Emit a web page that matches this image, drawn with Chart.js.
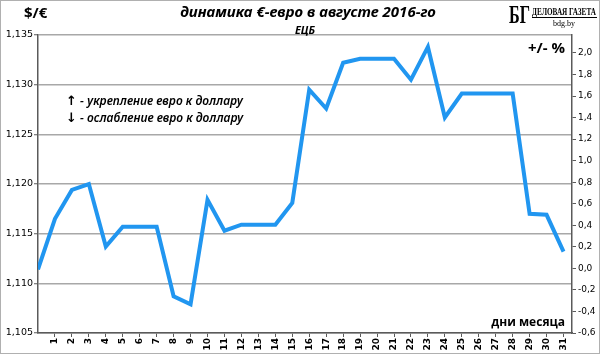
<!DOCTYPE html>
<html>
<head>
<meta charset="utf-8">
<script src="https://cdn.jsdelivr.net/npm/chart.js@4"></script>
<style>
  body { margin: 0; background: #fff; }
  canvas { display: block; }
</style>
</head>
<body>
<canvas id="euroChart" width="600" height="354"></canvas>
<script>
// Data: EUR/USD rate (ECB), August 2016; day 0 = end of July
const days = [0, 1, 2, 3, 4, 5, 6, 7, 8, 9, 10, 11, 12, 13, 14, 15, 16, 17, 18, 19, 20, 21, 22, 23, 24, 25, 26, 27, 28, 29, 30, 31];
const rates = [1.1114, 1.1165, 1.1194, 1.1200, 1.1137, 1.1157, 1.1157, 1.1157, 1.1087, 1.1079,
    1.1184, 1.1153, 1.1159, 1.1159, 1.1159, 1.1181, 1.1295, 1.1276, 1.1322, 1.1326,
    1.1326, 1.1326, 1.1305, 1.1338, 1.1267, 1.1291, 1.1291, 1.1291, 1.1291, 1.1170,
    1.1169, 1.1132];
const dayTicks = [1, 2, 3, 4, 5, 6, 7, 8, 9, 10, 11, 12, 13, 14, 15, 16, 17, 18, 19, 20, 21, 22, 23, 24, 25, 26, 27, 28, 29, 30, 31];
const rateTicks = [1.105, 1.110, 1.115, 1.120, 1.125, 1.130, 1.135];
const pctTicks = [-0.6, -0.4, -0.2, 0.0, 0.2, 0.4, 0.6, 0.8, 1.0, 1.2, 1.4, 1.6, 1.8, 2.0];

const lineColor = '#2196f0';
const axisColor = '#5a5a5a';
const gridColor = '#a8a8a8';

function comma(v, digits) {
    return v.toFixed(digits).replace('.', ',');
}

// draw text squeezed into a given width (for the condensed logo lettering)
function fitText(ctx, text, x, y, width) {
    const w = ctx.measureText(text).width;
    ctx.save();
    ctx.translate(x, y);
    ctx.scale(Math.min(1, width / w), 1);
    ctx.fillText(text, 0, 0);
    ctx.restore();
}

// Titles, notes and logo drawn over the chart
const decorations = {
    id: 'decorations',
    afterDraw(chart) {
        const ctx = chart.ctx;
        ctx.save();
        ctx.fillStyle = '#000';
        ctx.textBaseline = 'middle';

        ctx.font = 'bold 15px "Open Sans", "DejaVu Sans", sans-serif';
        ctx.textAlign = 'left';
        ctx.fillText('$/€', 24, 14);

        ctx.font = 'italic bold 15px "Noto Sans", "DejaVu Sans", sans-serif';
        ctx.textAlign = 'center';
        ctx.fillText('динамика €-евро в августе 2016-го', 308, 13);

        ctx.font = 'italic bold 11px "Noto Sans", sans-serif';
        ctx.fillText('ЕЦБ', 305, 31);

        ctx.font = 'bold 15px "Open Sans", sans-serif';
        ctx.textAlign = 'right';
        ctx.fillText('+/- %', 565, 49);

        ctx.font = 'bold 12px "Open Sans", sans-serif';
        ctx.fillText('дни месяца', 565, 323);

        ctx.textAlign = 'left';
        ctx.font = 'bold 13px "DejaVu Sans", sans-serif';
        ctx.fillText('↑', 66, 102);
        ctx.fillText('↓', 66, 119);
        ctx.font = 'italic 600 12px "Noto Sans", sans-serif';
        ctx.fillText('- укрепление евро к доллару', 80, 102);
        ctx.fillText('- ослабление евро к доллару', 80, 119);

        // logo
        ctx.font = 'bold 25px "Liberation Serif", serif';
        fitText(ctx, 'БГ', 509, 17, 21);
        ctx.font = 'bold 10px "Liberation Serif", serif';
        fitText(ctx, 'ДЕЛОВАЯ ГАЗЕТА', 532, 12, 64);
        ctx.fillRect(532, 17, 65, 1);
        ctx.font = '8px "Liberation Serif", serif';
        ctx.textAlign = 'center';
        ctx.fillText('bdg.by', 564, 24);

        // outer frame
        ctx.strokeStyle = '#b0b0b0';
        ctx.lineWidth = 1;
        ctx.strokeRect(0.5, 0.5, 599, 353);
        ctx.restore();
    }
};

new Chart(document.getElementById('euroChart'), {
    type: 'line',
    data: {
        datasets: [{
            data: days.map((d, i) => ({ x: d, y: rates[i] })),
            borderColor: lineColor,
            borderWidth: 4,
            pointRadius: 0,
            tension: 0,
            yAxisID: 'y'
        }]
    },
    options: {
        responsive: false,
        animation: false,
        layout: { padding: { top: 35, left: 0, right: 0, bottom: 0 } },
        plugins: {
            legend: { display: false },
            tooltip: { enabled: false }
        },
        scales: {
            x: {
                type: 'linear',
                min: 0,
                max: 31.5,
                afterBuildTicks: scale => { scale.ticks = dayTicks.map(v => ({ value: v })); },
                afterFit: scale => { scale.height = 21; },
                ticks: {
                    autoSkip: false,
                    minRotation: 90,
                    maxRotation: 90,
                    padding: 1,
                    color: '#000',
                    font: { family: '"DejaVu Sans", sans-serif', size: 9, weight: 'bold' },
                    callback: v => String(v)
                },
                grid: { drawOnChartArea: false, tickLength: 4, tickColor: axisColor, tickWidth: 1 },
                border: { color: axisColor, width: 1.5 }
            },
            y: {
                position: 'left',
                min: 1.105,
                max: 1.135,
                afterBuildTicks: scale => { scale.ticks = rateTicks.map(v => ({ value: v })); },
                afterFit: scale => { scale.width = 38; },
                ticks: {
                    padding: 1,
                    color: '#000',
                    font: { family: '"DejaVu Sans", sans-serif', size: 9.5 },
                    callback: v => comma(v, 3)
                },
                grid: { color: gridColor, lineWidth: 1.5, tickLength: 4, tickColor: axisColor, tickWidth: 1 },
                border: { color: axisColor, width: 1.5 }
            },
            y2: {
                position: 'right',
                min: -0.6,
                max: 2.167,
                afterBuildTicks: scale => { scale.ticks = pctTicks.map(v => ({ value: v })); },
                afterFit: scale => { scale.width = 28; },
                ticks: {
                    padding: 2,
                    color: '#000',
                    font: { family: '"DejaVu Sans", sans-serif', size: 9 },
                    callback: v => comma(v, 1)
                },
                grid: { drawOnChartArea: false, tickLength: 4, tickColor: axisColor, tickWidth: 1 },
                border: { color: axisColor, width: 1.5 }
            }
        }
    },
    plugins: [decorations]
});
</script>
</body>
</html>
